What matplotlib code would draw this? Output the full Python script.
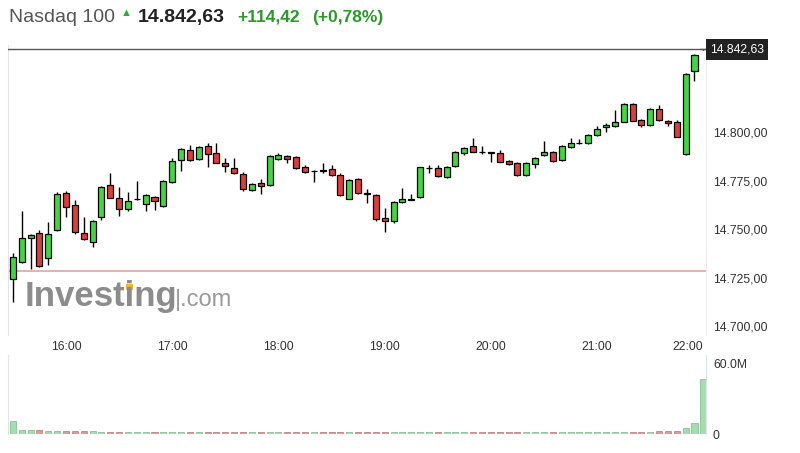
import matplotlib.pyplot as plt
from matplotlib.patches import Rectangle
import numpy as np

# 5-minute candles, 15:30 .. 22:00
opens = [14724.1, 14733.1, 14745.2, 14747.8, 14734.9, 14749.5, 14768.4, 14762.4, 14747.8, 14743.5,
         14756.0, 14772.7, 14766.1, 14760.3, 14765.3, 14762.9, 14766.3, 14761.9, 14774.4, 14785.6,
         14790.7, 14786.1, 14792.8, 14789.3, 14783.9, 14781.6, 14778.2, 14770.1, 14773.6, 14772.7,
         14785.9, 14787.6, 14787.0, 14781.8, 14779.8, 14780.2, 14781.1, 14778.0, 14765.6, 14775.6,
         14768.6, 14767.5, 14755.5, 14754.3, 14763.8, 14765.2, 14766.3, 14781.2, 14781.6, 14776.6,
         14782.5, 14789.3, 14792.8, 14789.9, 14789.5, 14789.0, 14785.1, 14783.9, 14777.8, 14783.4,
         14788.1, 14789.5, 14785.6, 14792.4, 14794.2, 14794.2, 14798.5, 14802.4, 14803.2, 14805.3,
         14814.4, 14806.0, 14803.6, 14811.9, 14805.8, 14805.0, 14788.7, 14831.6, 14842.6]
highs = [14737.5, 14759.4, 14747.2, 14749.5, 14753.8, 14769.2, 14769.5, 14765.0, 14756.0, 14754.8,
         14772.2, 14779.0, 14771.5, 14768.9, 14774.7, 14768.0, 14766.8, 14775.2, 14786.4, 14791.7,
         14793.3, 14792.8, 14794.5, 14794.2, 14786.4, 14786.4, 14779.5, 14773.6, 14775.6, 14788.0,
         14789.3, 14788.0, 14787.5, 14782.8, 14780.2, 14783.9, 14783.0, 14778.7, 14775.6, 14776.1,
         14770.5, 14767.8, 14761.0, 14764.2, 14771.0, 14767.9, 14782.2, 14783.0, 14783.0, 14782.5,
         14790.2, 14792.3, 14796.8, 14792.8, 14789.6, 14790.7, 14785.6, 14784.7, 14784.3, 14787.2,
         14795.4, 14790.0, 14793.5, 14797.1, 14796.4, 14799.0, 14803.1, 14804.5, 14811.3, 14815.0,
         14814.8, 14806.5, 14812.3, 14813.9, 14806.2, 14806.2, 14830.2, 14840.0, 14842.7]
lows = [14712.5, 14732.5, 14729.2, 14730.5, 14731.4, 14749.2, 14756.0, 14747.5, 14744.3, 14740.6,
        14754.6, 14765.8, 14756.7, 14759.3, 14765.0, 14759.3, 14759.8, 14761.5, 14773.9, 14780.1,
        14785.2, 14785.8, 14781.8, 14783.8, 14779.5, 14778.6, 14769.7, 14769.7, 14768.0, 14772.3,
        14785.5, 14784.2, 14781.0, 14778.7, 14774.4, 14779.0, 14777.5, 14767.0, 14765.3, 14768.3,
        14763.2, 14754.3, 14748.6, 14752.9, 14763.4, 14765.0, 14766.0, 14778.7, 14777.0, 14776.3,
        14782.2, 14788.1, 14789.5, 14788.5, 14784.7, 14784.3, 14783.1, 14777.5, 14777.5, 14781.3,
        14787.8, 14784.7, 14785.2, 14792.0, 14794.0, 14793.7, 14798.2, 14800.2, 14802.8, 14805.0,
        14805.5, 14802.7, 14803.2, 14805.8, 14803.2, 14797.2, 14788.3, 14826.3, 14842.5]
closes = [14735.7, 14745.2, 14746.9, 14730.9, 14747.3, 14767.9, 14761.2, 14748.3, 14744.7, 14754.3,
          14771.5, 14766.1, 14760.5, 14764.4, 14765.6, 14767.5, 14764.4, 14774.7, 14785.1, 14791.2,
          14785.6, 14792.4, 14788.7, 14784.2, 14782.5, 14779.0, 14770.5, 14773.2, 14772.2, 14787.6,
          14788.1, 14786.1, 14781.4, 14779.5, 14780.0, 14780.0, 14777.7, 14767.5, 14775.3, 14768.7,
          14768.3, 14755.2, 14754.1, 14763.8, 14765.3, 14765.5, 14781.8, 14781.4, 14777.3, 14782.1,
          14789.8, 14791.9, 14789.8, 14789.7, 14789.4, 14784.7, 14783.5, 14777.8, 14783.9, 14786.8,
          14789.8, 14785.1, 14792.8, 14794.2, 14794.4, 14798.5, 14801.5, 14803.6, 14805.3, 14814.4,
          14805.8, 14803.6, 14811.9, 14806.2, 14804.8, 14797.6, 14829.7, 14839.7, 14842.63]
# volume in millions
volumes = [11.0, 3.4, 3.4, 3.0, 2.5, 2.5, 2.6, 2.6, 2.6, 2.3,
           1.8, 1.7, 1.8, 1.6, 1.5, 1.6, 1.5, 1.7, 1.8, 1.6,
           1.5, 1.5, 1.6, 1.5, 1.4, 1.5, 1.7, 1.5, 1.5, 1.6,
           1.6, 1.4, 1.5, 1.5, 1.4, 1.5, 1.4, 1.6, 1.5, 1.6,
           1.6, 1.7, 1.5, 1.6, 1.5, 1.6, 1.8, 1.5, 1.4, 1.4,
           1.5, 1.5, 1.4, 1.5, 1.4, 1.5, 1.5, 1.6, 1.4, 1.5,
           1.5, 1.4, 1.5, 1.4, 1.6, 1.5, 1.5, 1.6, 1.7, 1.8,
           1.8, 1.6, 2.0, 2.2, 2.8, 2.8, 5.3, 9.6, 47.0]

last_price = 14842.63
prev_close = 14728.21
price_ticks = [14700, 14725, 14750, 14775, 14800]

GREEN = '#3fd83f'
RED = '#e23b3b'
VOL_GREEN = '#a6dcb0'
VOL_RED = '#dc9c9c'


def fmt_price(v):
    s = f'{v:,.2f}'
    return s.replace(',', 'X').replace('.', ',').replace('X', '.')


plt.rcParams['font.family'] = ['Liberation Sans', 'DejaVu Sans']

n = len(closes)
x = np.arange(n)
times = [f'{(15 * 60 + 30 + 5 * i) // 60}:{(30 + 5 * i) % 60:02d}' for i in range(n)]

fig = plt.figure(figsize=(8, 4.53), dpi=100)
ax = fig.add_axes([0.01, 0.2605, 0.8725, 0.640])
axv = fig.add_axes([0.01, 0.0419, 0.8725, 0.1744])

# candles
w = 0.68
for i in range(n):
    up = closes[i] >= opens[i]
    ax.vlines(x[i], lows[i], highs[i], color='black', lw=1, zorder=2)
    lo = min(opens[i], closes[i])
    h = max(abs(closes[i] - opens[i]), 0.15)
    ax.add_patch(Rectangle((x[i] - w / 2, lo), w, h, facecolor=GREEN if up else RED,
                           edgecolor='black', lw=0.9, zorder=3))

ax.axhline(prev_close, color='#e3a3a3', lw=1.2, zorder=1)
ax.axhline(last_price, color='#555555', lw=1.0, zorder=4)

ax.set_xlim(-0.55, 78.3)
ax.set_ylim(14695.4, 14844.8)
ax.yaxis.tick_right()
ax.set_yticks(price_ticks)
ax.set_yticklabels([fmt_price(v) for v in price_ticks])
tick_idx = [i for i in range(n) if times[i].endswith(':00')]
ax.set_xticks(tick_idx)
ax.set_xticklabels([times[i] for i in tick_idx])
ax.get_xticklabels()[-1].set_horizontalalignment('right')
ax.tick_params(axis='both', length=0, labelsize=8.7, colors='#333333')
ax.tick_params(axis='x', pad=4)
ax.tick_params(axis='y', pad=5)
for s in ['top', 'bottom']:
    ax.spines[s].set_visible(False)
ax.spines['left'].set_color('#e4e4e4')
ax.spines['right'].set_color('#eeeeee')

# last price label
ax.text(1.006, last_price, fmt_price(last_price), transform=ax.get_yaxis_transform(),
        ha='left', va='center', fontsize=8.7, color='white',
        bbox=dict(boxstyle='square,pad=0.35', facecolor='#222222', edgecolor='none'), zorder=5)

# watermark
fig.text(0.031, 0.345, 'Investing', fontsize=25, fontweight='bold', color='#8c8c8c', ha='left', va='center')
fig.text(0.219, 0.338, '|.com', fontsize=17, color='#9a9a9a', ha='left', va='center')
fig.patches.append(Rectangle((0.158, 0.359), 0.008, 0.013, transform=fig.transFigure,
                             facecolor='#f2b632', edgecolor='none'))

# volume
vol_colors = [VOL_GREEN if closes[i] >= opens[i] else VOL_RED for i in range(n)]
vol_edges = ['#86c493' if closes[i] >= opens[i] else '#c98080' for i in range(n)]
axv.bar(x, volumes, width=w, color=vol_colors, edgecolor=vol_edges, lw=0.6)
axv.set_xlim(-0.55, 78.3)
axv.set_ylim(0, 67)
axv.yaxis.tick_right()
axv.set_yticks([0, 60])
axv.set_yticklabels(['0', '60.0M'])
axv.set_xticks([])
axv.tick_params(axis='y', length=0, labelsize=8.7, colors='#333333', pad=5)
for s in ['top', 'bottom']:
    axv.spines[s].set_visible(False)
axv.spines['left'].set_color('#e4e4e4')
axv.spines['right'].set_color('#dde3ee')

# header
fig.text(0.011, 0.962, 'Nasdaq 100', fontsize=14, color='#555555', ha='left', va='center')
fig.text(0.158, 0.972, '\u25b2', fontsize=8, color='#2fae2f', ha='center', va='center')
fig.text(0.172, 0.962, fmt_price(last_price), fontsize=14, fontweight='bold', color='#222222',
         ha='left', va='center')
fig.text(0.297, 0.962, '+114,42', fontsize=12.5, fontweight='bold', color='#2b9a2b',
         ha='left', va='center')
fig.text(0.39, 0.962, '(+0,78%)', fontsize=12.5, fontweight='bold', color='#2b9a2b',
         ha='left', va='center')

fig.savefig('out.png', dpi=100)
